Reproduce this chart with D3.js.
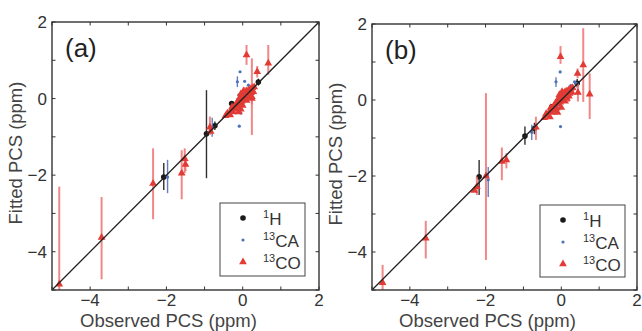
<!DOCTYPE html>
<html><head><meta charset="utf-8">
<script src="https://cdn.jsdelivr.net/npm/d3@7"></script>
<style>body{margin:0;background:#fff}svg{display:block}text{font-family:"Liberation Sans",Arial,sans-serif}</style>
</head><body>
<svg id="c" width="642" height="331"></svg>
<script>
// ---- data: [observed, fitted, barTop, barBottom] ----
const tickValues = [-4, -2, 0, 2];
const minorTicks = [-5, -4, -3, -2, -1, 0, 1, 2];
const panelLabels = ["(a)", "(b)"];
const seriesNames = ["1H", "13CA", "13CO"];

const hA = [[-2.07,-2.05,-1.68,-2.39],[-0.95,-0.92,0.22,-2.08],[-0.73,-0.71,-0.6,-0.82],[-0.29,-0.13],[0.41,0.43,0.52,0.34],[-0.1,-0.05],[0.05,0.02],[0.15,0.12],[-0.2,-0.25],[0.25,0.2]];
const caA = [[-1.97,-2.05,-1.6,-2.47],[-0.80,-0.75,-0.5,-1.0],[-0.07,0.70],[-0.14,0.44,0.58,0.30],[0.05,0.45],[0.15,0.35],[-0.05,-0.38],[-0.09,-0.72],[-0.3,-0.35],[-0.2,-0.2],[0.0,-0.05],[0.2,0.15],[-0.1,0.1]];
const coA = [[-4.81,-4.85,-2.30,-5.3],[-3.70,-3.63,-2.57,-4.72],[-2.35,-2.22,-1.30,-3.15],[-1.60,-1.95,-1.35,-2.63],[-1.52,-1.57,-1.30,-1.95],[-1.50,-1.72,-1.55,-1.9],[-0.86,-0.75,-0.47,-0.95],[-0.84,-0.86],[0.10,1.14,1.40,0.88],[0.24,0.0,1.05,-0.95],[0.38,0.70,0.85,0.55],[0.67,0.92,1.40,0.62],
 [-0.45,-0.45],[-0.40,-0.38],[-0.35,-0.42],[-0.30,-0.30],[-0.28,-0.22],[-0.25,-0.35],[-0.20,-0.18],[-0.18,-0.28],[-0.15,-0.10],[-0.12,-0.20],[-0.10,-0.02],[-0.08,-0.12],[-0.05,0.05],[-0.03,-0.08],[0.00,0.08],[0.00,-0.02],[0.03,0.12],[0.05,0.00],[0.07,0.15],[0.08,0.05],[0.10,0.20],[0.12,0.08],[0.15,0.22],[0.17,0.12],[0.20,0.25],[0.22,0.15],[0.25,0.28],[0.28,0.18],[0.30,0.30],[0.02,0.20],[-0.05,0.12],[0.10,-0.05],[0.15,0.02],[0.20,0.05],[-0.10,-0.35],[-0.05,-0.28],[0.0,-0.18],[-0.33,-0.43],[0.24,0.05,0.3,-0.15],[0.05,0.1,0.3,-0.1],[-0.15,-0.2,0.0,-0.4]];

const hB = [[-2.17,-2.02,-1.58,-2.50],[-0.96,-0.95,-0.70,-1.18],[-0.71,-0.75,-0.6,-0.9],[-0.25,-0.18],[0.42,0.44,0.55,0.33],[0.0,0.0],[0.1,0.1],[-0.1,-0.05]];
const caB = [[-1.93,-2.10,-1.76,-2.55],[-0.78,-0.85,-0.65,-1.05],[-0.03,0.74],[-0.14,0.48,0.60,0.34],[-0.02,-0.70],[0.25,0.38],[0.35,0.48],[0.40,0.44],[0.3,0.2],[0.15,0.05],[-0.05,-0.2],[-0.2,-0.3]];
const coB = [[-4.72,-4.81,-4.34,-5.3],[-3.58,-3.64,-3.18,-4.17],[-2.23,-2.28,-2.02,-2.50],[-2.30,-2.38],[-1.99,-2.0,0.18,-4.21],[-1.57,-1.62,-1.25,-2.11],[-1.45,-1.58,-1.40,-1.80],[-0.67,-0.72,-0.44,-1.05],[-0.02,1.14,1.42,0.95],[0.43,0.70,0.83,0.57],[0.44,0.2,0.44,-0.04],[0.58,0.92,1.89,-0.05],[0.75,0.15,0.70,-0.50],
 [-0.45,-0.47],[-0.40,-0.36],[-0.35,-0.40],[-0.30,-0.28],[-0.28,-0.20],[-0.25,-0.33],[-0.20,-0.16],[-0.18,-0.26],[-0.15,-0.08],[-0.12,-0.22],[-0.10,0.0],[-0.08,-0.10],[-0.05,0.06],[-0.03,-0.06],[0.00,0.10],[0.00,0.0],[0.03,0.14],[0.05,0.02],[0.07,0.17],[0.08,0.06],[0.10,0.22],[0.12,0.10],[0.15,0.24],[0.17,0.14],[0.20,0.27],[0.22,0.17],[0.25,0.30],[0.28,0.20],[0.30,0.32],[0.02,0.22],[-0.05,0.14],[0.10,-0.03],[0.15,0.04],[-0.10,-0.33],[0.0,-0.2],[-0.3,-0.45],[0.2,0.1,0.3,-0.05]];

const panels = [
  {left:52, top:22, w:267, h:268, h1:hA, ca:caA, co:coA, label:panelLabels[0], legend:{x:220,y:203,w:85,h:73}},
  {left:372, top:24, w:265, h:266, h1:hB, ca:caB, co:coB, label:panelLabels[1], legend:{x:540,y:205,w:85,h:72}}
];

const svg = d3.select("#c");
const C = {h1:"#1a1a1a", ca:"#4f72b8", co:"#e23b35", coBar:"#ee7474", text:"#333"};
const fmt = d => d < 0 ? "\u2212" + Math.abs(d) : String(d);

panels.forEach((p, i) => {
  const x = d3.scaleLinear().domain([-5, 2]).range([p.left, p.left + p.w]);
  const y = d3.scaleLinear().domain([-5, 2]).range([p.top + p.h, p.top]);
  const g = svg.append("g");
  const clipId = "clip" + i;
  svg.append("clipPath").attr("id", clipId).append("rect")
    .attr("x", p.left).attr("y", p.top).attr("width", p.w).attr("height", p.h);
  const plot = g.append("g").attr("clip-path", `url(#${clipId})`);

  const tri = d3.symbol().type(d3.symbolTriangle).size(26);
  const bars = (data, color, width, op) => plot.append("g").selectAll("line")
    .data(data.filter(d => d.length > 2)).join("line")
    .attr("x1", d => x(d[0])).attr("x2", d => x(d[0]))
    .attr("y1", d => y(d[2])).attr("y2", d => y(d[3]))
    .attr("stroke", color).attr("stroke-width", width).attr("opacity", op);

  // series in order: 1H, 13CA, 13CO (later on top)
  bars(p.h1, C.h1, 1.4, 0.9);
  plot.append("g").selectAll("circle").data(p.h1).join("circle")
    .attr("cx", d => x(d[0])).attr("cy", d => y(d[1])).attr("r", 2.8).attr("fill", C.h1);
  bars(p.ca, C.ca, 1.4, 0.9);
  plot.append("g").selectAll("circle").data(p.ca).join("circle")
    .attr("cx", d => x(d[0])).attr("cy", d => y(d[1])).attr("r", 1.6).attr("fill", C.ca);
  bars(p.co, C.coBar, 2, 0.85);
  plot.append("g").selectAll("path").data(p.co).join("path")
    .attr("d", tri).attr("transform", d => `translate(${x(d[0])},${y(d[1])})`)
    .attr("fill", C.co);

  // diagonal
  plot.append("line").attr("x1", x(-5)).attr("y1", y(-5)).attr("x2", x(2)).attr("y2", y(2))
    .attr("stroke", "#222").attr("stroke-width", 1.3);

  // box + inward ticks on all sides
  g.append("rect").attr("x", p.left).attr("y", p.top).attr("width", p.w).attr("height", p.h)
    .attr("fill", "none").attr("stroke", "#333").attr("stroke-width", 1.4);
  const tk = 3.5;
  const tg = g.append("g").attr("stroke", "#333").attr("stroke-width", 1);
  minorTicks.forEach(v => {
    tg.append("line").attr("x1", x(v)).attr("x2", x(v)).attr("y1", p.top + p.h).attr("y2", p.top + p.h - tk);
    tg.append("line").attr("x1", x(v)).attr("x2", x(v)).attr("y1", p.top).attr("y2", p.top + tk);
    tg.append("line").attr("y1", y(v)).attr("y2", y(v)).attr("x1", p.left).attr("x2", p.left + tk);
    tg.append("line").attr("y1", y(v)).attr("y2", y(v)).attr("x1", p.left + p.w).attr("x2", p.left + p.w - tk);
  });
  g.append("g").selectAll("text").data(tickValues).join("text")
    .attr("x", d => x(d)).attr("y", p.top + p.h + 16).attr("text-anchor", "middle")
    .attr("font-size", 17).attr("fill", C.text).text(fmt);
  g.append("g").selectAll("text").data(tickValues).join("text")
    .attr("x", p.left - 5).attr("y", d => y(d) + 6).attr("text-anchor", "end")
    .attr("font-size", 17).attr("fill", C.text).text(fmt);

  // axis titles
  g.append("text").attr("x", p.left + p.w / 2 - 17).attr("y", 327).attr("text-anchor", "middle")
    .attr("font-size", 18.5).attr("fill", "#444").text("Observed PCS (ppm)");
  g.append("text").attr("transform", `translate(${p.left - 30},${p.top + p.h / 2 - 3}) rotate(-90)`)
    .attr("text-anchor", "middle").attr("font-size", 18.5).attr("fill", "#444").text("Fitted PCS (ppm)");

  // panel label
  g.append("text").attr("x", p.left + 13).attr("y", p.top + 35).attr("font-size", 26)
    .attr("fill", "#222").text(p.label);

  // legend
  const L = p.legend;
  g.append("rect").attr("x", L.x).attr("y", L.y).attr("width", L.w).attr("height", L.h)
    .attr("fill", "#fff").attr("stroke", "#444").attr("stroke-width", 1);
  const mx = L.x + 23, tx = L.x + 43;
  const rows = [L.y + 15, L.y + 37, L.y + 59];
  g.append("circle").attr("cx", mx).attr("cy", rows[0]).attr("r", 2.8).attr("fill", C.h1);
  g.append("circle").attr("cx", mx).attr("cy", rows[1]).attr("r", 1.6).attr("fill", C.ca);
  g.append("path").attr("d", tri).attr("transform", `translate(${mx},${rows[2]})`).attr("fill", C.co);
  seriesNames.forEach((s, k) => {
    const m = s.match(/^(\d+)(.*)$/);
    const t = g.append("text").attr("x", tx).attr("y", rows[k] + 7).attr("font-size", 17).attr("fill", C.text);
    t.append("tspan").attr("font-size", 11).attr("dy", -7).text(m[1]);
    t.append("tspan").attr("dy", 7).text(m[2]);
  });
});
</script>
</body></html>
